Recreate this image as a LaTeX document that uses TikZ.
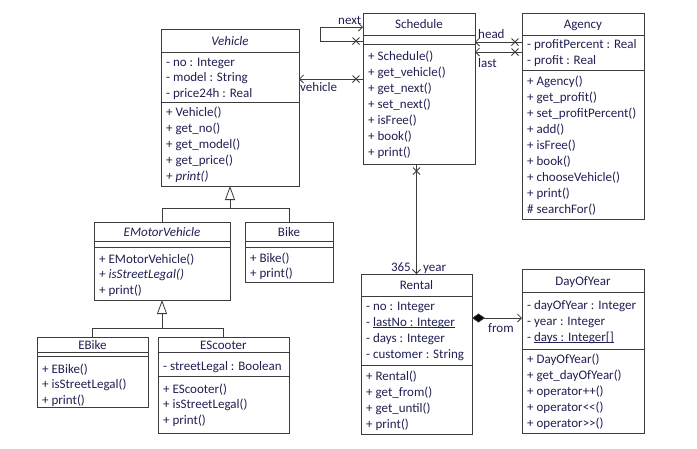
\documentclass[tikz,border=0pt]{standalone}
\usepackage{fontspec}
\setmainfont{Carlito}
\usetikzlibrary{arrows.meta,decorations.markings,calc}
\definecolor{txt}{RGB}{32,32,84}
\definecolor{ln}{RGB}{60,60,60}
\newcommand\umlul[1]{\setbox0\hbox{#1}\rlap{\rule[-1.6pt]{\wd0}{0.6pt}}\box0}
\tikzset{
  classbox/.style={draw=ln, line width=0.8pt, anchor=north west, inner sep=0pt, outer sep=0pt},
  ctitle/.style={anchor=base, inner sep=0pt, text=txt, font=\fontsize{13}{16}\selectfont},
  member/.style={anchor=base west, inner sep=0pt, text=txt, font=\fontsize{13}{16}\selectfont},
  lbl/.style={anchor=base west, inner sep=0pt, text=txt, font=\fontsize{13}{16}\selectfont},
  conn/.style={draw=ln, line width=0.8pt},
  nav/.style={conn, -{Straight Barb[length=4pt,width=8pt]}},
  xmark/.style={postaction={decorate}, decoration={markings, mark=at position 7pt with {\draw[-, ln, line width=0.8pt] (-3.5,-3.5)--(3.5,3.5) (-3.5,3.5)--(3.5,-3.5);}}},
  inh/.style={conn, -{Triangle[open,length=14pt,width=10pt,fill=white]}},
}
\newcommand\umlclass[8]{%
  \node[classbox, minimum width=#4pt, minimum height=#5pt] (#1) at (#2,#3) {};
  \draw[conn] (#1.west |- 0,#6) -- (#1.east |- 0,#6);
  \draw[conn] (#1.west |- 0,#7) -- (#1.east |- 0,#7);
  \node[ctitle] (#1-title) at ({#2+#4/2},{(#3+#6)/2+4.5}) {#8};}
\newcommand\umlmembers[5]{%
  \foreach \m [count=\i] in {#5} {\node[member] (#1-\i) at (#2,{#3+#4*(\i-1)}) {\m};}}
\begin{document}
\begin{tikzpicture}[x=1pt,y=-1pt]
\fill[white] (0,0) rectangle (697,448);
\useasboundingbox (0,0) rectangle (697,448);

% Schedule
\umlclass{sched}{363}{13}{112}{151}{35}{44}{Schedule}
\umlmembers{sched-m}{368}{60}{16}{+ Schedule(),+ get\_vehicle(),+ get\_next(),+ set\_next(),+ isFree(),+ book(),+ print()}

% Vehicle
\umlclass{veh}{161}{29}{138}{157}{52}{102}{\textit{Vehicle}}
\umlmembers{veh-a}{166}{66}{15.5}{- no : Integer,- model : String,- price24h : Real}
\umlmembers{veh-m}{166}{116}{16}{+ Vehicle(),+ get\_no(),+ get\_model(),+ get\_price(),\textit{+ print()}}

% Agency
\umlclass{agency}{522}{13}{122}{206}{35}{70}{Agency}
\umlmembers{agency-a}{527}{48}{16}{- profitPercent : Real,- profit : Real}
\umlmembers{agency-m}{527}{85}{16}{+ Agency(),+ get\_profit(),+ set\_profitPercent(),+ add(),+ isFree(),+ book(),+ chooseVehicle(),+ print(),\# searchFor()}

% EMotorVehicle
\umlclass{emv}{94}{222}{136}{78}{241}{247}{\textit{EMotorVehicle}}
\umlmembers{emv-m}{99}{263}{15.5}{+ EMotorVehicle(),\textit{+ isStreetLegal()},+ print()}

% Bike
\umlclass{bike}{245}{222}{88}{60}{241}{247}{Bike}
\umlmembers{bike-m}{250}{262}{15.5}{+ Bike(),+ print()}

% EBike
\umlclass{ebike}{37}{337}{111}{70}{352}{356}{EBike}
\umlmembers{ebike-m}{42}{373}{15.5}{+ EBike(),+ isStreetLegal(),+ print()}

% EScooter
\umlclass{escoot}{158}{337}{131}{96}{352}{376}{EScooter}
\umlmembers{escoot-a}{163}{370}{16}{- streetLegal : Boolean}
\umlmembers{escoot-m}{163}{393}{15.5}{+ EScooter(),+ isStreetLegal(),+ print()}

% Rental
\umlclass{rental}{361}{274}{111}{160}{296}{365}{Rental}
\umlmembers{rental-a}{366}{310}{16}{- no : Integer,- \umlul{lastNo : Integer},- days : Integer,- customer : String}
\umlmembers{rental-m}{366}{380}{16}{+ Rental(),+ get\_from(),+ get\_until(),+ print()}

% DayOfYear
\umlclass{doy}{522}{269}{122}{164}{292}{349}{DayOfYear}
\umlmembers{doy-a}{527}{309}{16}{- dayOfYear : Integer,- year : Integer,- \umlul{days : Integer[]}}
\umlmembers{doy-m}{527}{363}{16}{+ DayOfYear(),+ get\_dayOfYear(),+ operator++(),+ operator<{}<(),+ operator>{}>()}

% associations
\draw[nav,xmark] (sched.west |- 0,41) -- ++(-43,0) |- (sched.west |- 0,27);
\draw[nav,xmark] (sched.west |- 0,79) -- (veh.east |- 0,79);
\draw[nav,xmark] (agency.west |- 0,42) -- (sched.east |- 0,42);
\draw[nav,xmark] (agency.west |- 0,52) -- (sched.east |- 0,52);
\draw[nav,xmark] (rental.north |- sched.south) -- (rental.north);
\draw[conn,{Diamond[length=13pt,width=9pt,fill=black]}-{Straight Barb[length=4pt,width=8pt]}] (rental.east |- 0,318) -- (doy.west |- 0,318);

% inheritance
\coordinate (j1) at (veh.south |- 0,208);
\draw[conn] (emv.north) |- (j1);
\draw[conn] (bike.north) |- (j1);
\draw[inh] (j1) -- (veh.south);
\coordinate (j2) at (emv.south |- 0,328);
\draw[conn] (ebike.north) |- (j2);
\draw[conn] (escoot.north) |- (j2);
\draw[inh] (j2) -- (emv.south);

% labels
\node[lbl] (l-next) at (338,24) {next};
\node[lbl] (l-veh) at (300,91) {vehicle};
\node[lbl] (l-head) at (478,38) {head};
\node[lbl] (l-last) at (478,67) {last};
\node[lbl, anchor=base east] (l-365) at (411,271) {365};
\node[lbl] (l-year) at (423,271) {year};
\node[lbl] (l-from) at (488,332) {from};
\end{tikzpicture}
\end{document}
